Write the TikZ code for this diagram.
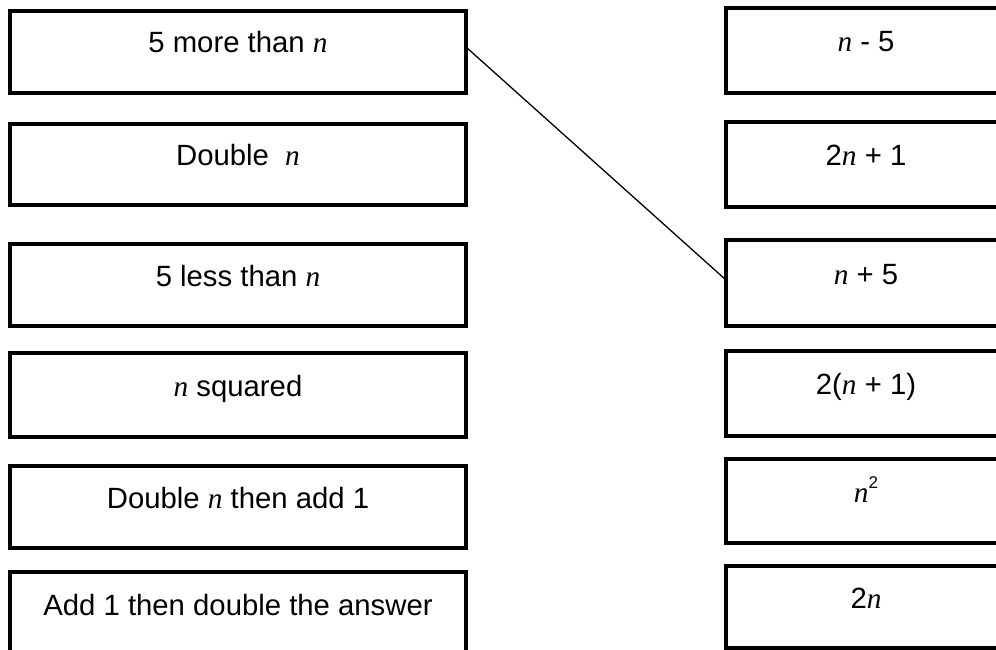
\documentclass[tikz,border=0pt]{standalone}
\usepackage{fontspec}
\setmainfont{Liberation Sans}
\newfontfamily\serifit{Liberation Serif}
\newcommand\vn{{\serifit\itshape n}}
\newcommand\sqtwo{\raisebox{0.45em}{\fontsize{17}{17}\selectfont 2}}
\tikzset{
  matchbox/.style={draw, line width=4.5pt, inner sep=0pt, outer sep=0pt,
    text height=21pt, text depth=19pt, font=\fontsize{29.3}{34}\selectfont},
  lbox/.style={matchbox, minimum width=456pt},
  rbox/.style={matchbox, minimum width=280pt},
  link/.style={line width=1.3pt}
}
\begin{document}
\begin{tikzpicture}[x=1pt,y=-1pt]
\useasboundingbox (0,0) rectangle (996,650);
\clip (0,0) rectangle (996,650);
\fill[white] (0,0) rectangle (996,650);
% left column
\node[lbox, minimum height=82pt] (l1) at (238,52)    {5 more than \vn};
\node[lbox, minimum height=81pt] (l2) at (238,164.5) {Double\ \ \vn};
\node[lbox, minimum height=82pt] (l3) at (238,285)   {5 less than \vn};
\node[lbox, minimum height=84pt] (l4) at (238,395)   {\vn\ squared};
\node[lbox, minimum height=82pt] (l5) at (238,507)   {Double \vn\ then add 1};
\node[lbox, minimum height=84pt] (l6) at (238,614)   {Add 1 then double the answer};
% right column
\node[rbox, minimum height=85pt] (r1) at (866,50.5)  {\vn\ - 5};
\node[rbox, minimum height=85pt] (r2) at (866,164.5) {2\vn\ + 1};
\node[rbox, minimum height=86pt] (r3) at (866,283)   {\vn\ + 5};
\node[rbox, minimum height=85pt] (r4) at (866,393.5) {2(\vn\ + 1)};
\node[rbox, minimum height=84pt] (r5) at (866,501)   {\vn\sqtwo};
\node[rbox, minimum height=82pt] (r6) at (866,607)   {2\vn};
% connector
\draw[link] ([yshift=5pt]l1.east) -- ([yshift=3pt]r3.west);
\end{tikzpicture}
\end{document}
